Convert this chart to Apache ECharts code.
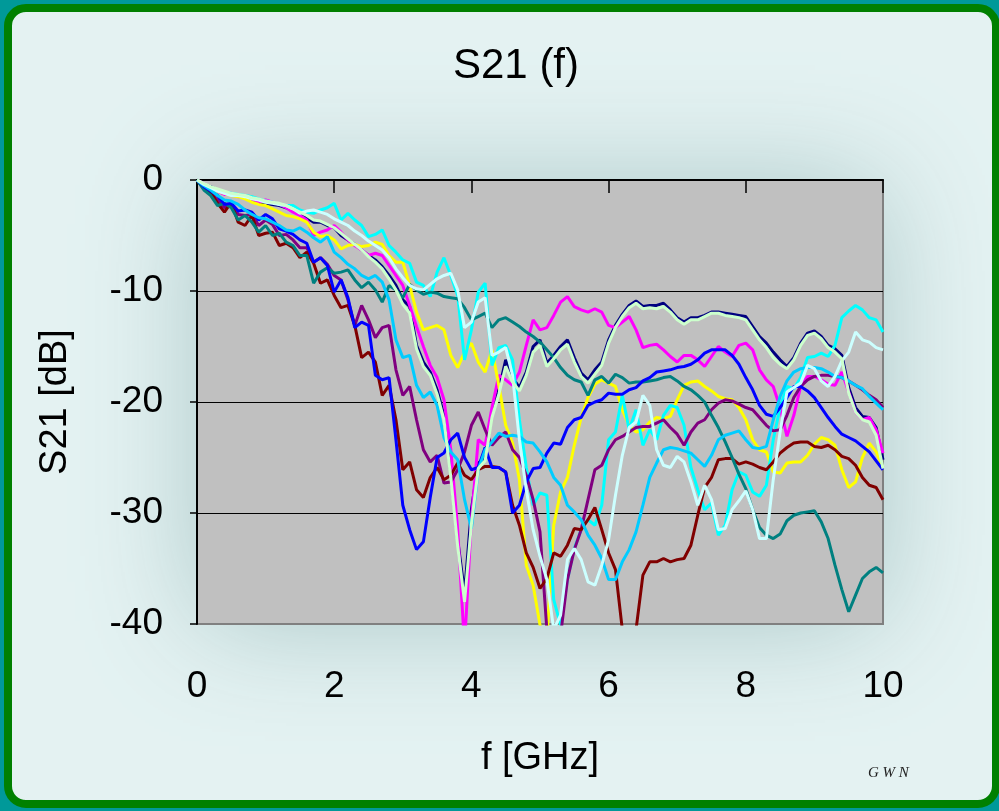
<!DOCTYPE html>
<html><head><meta charset="utf-8">
<script src="https://cdn.jsdelivr.net/npm/echarts/dist/echarts.min.js"></script>
<style>html,body{margin:0;padding:0;background:#009999;overflow:hidden}#c{width:999px;height:811px}</style>
</head><body><div id="c"></div>
<script>
// frequency grid: 0.0 .. 10.0 GHz, step 0.1
const FREQ = Array.from({length: 101}, (_, i) => Math.round(i) / 10);
const X_TICKS = [0, 2, 4, 6, 8, 10];
const Y_TICKS = [0, -10, -20, -30, -40];

const navy = [
 0, -0.4, -0.6, -0.9, -1.2, -1.3, -1.4, -1.6, -1.8, -2.0,
 -2.1, -2.2, -2.3, -2.5, -2.8, -3.1, -3.4, -3.8, -3.8, -4.1,
 -4.3, -5.0, -5.4, -5.8, -6.3, -6.8, -7.2, -7.8, -8.6, -9.5,
 -10.8, -11.4, -14.9, -16.4, -17.3, -18.9, -21.2, -26.3, -32.4, -37.2,
 -29.7, -25.5, -25.0, -20.9, -18.9, -16.2, -17.8, -18.7, -17.3, -15.0,
 -14.4, -16.5, -15.8, -15.0, -14.4, -16.0, -17.4, -18.0, -17.1, -16.4,
 -14.4, -13.1, -12.1, -11.3, -10.9, -11.4, -11.3, -11.3, -11.1, -11.7,
 -12.4, -12.8, -12.4, -12.4, -12.2, -11.9, -11.9, -12.0, -12.1, -12.2,
 -12.3, -13.2, -14.1, -14.7, -15.5, -16.2, -16.8, -16.0, -14.7, -13.8,
 -13.6, -14.1, -14.9, -15.2, -15.8, -18.7, -20.5, -21.3, -21.4, -22.3,
 -25.2];
const magenta = [
 0, -0.3, -0.7, -1.0, -1.3, -1.2, -1.5, -1.5, -1.7, -2.0,
 -1.8, -2.0, -2.2, -2.5, -2.9, -3.2, -3.6, -5.0, -4.7, -4.5,
 -4.1, -4.7, -5.4, -5.9, -6.3, -6.8, -6.6, -6.8, -7.7, -8.6,
 -9.5, -11.3, -13.2, -15.0, -16.7, -17.8, -19.8, -24.3, -31.5, -42.0,
 -30.6, -23.4, -23.9, -20.5, -17.6, -18.0, -18.5, -17.3, -14.9, -12.6,
 -13.5, -13.3, -12.2, -11.0, -10.5, -11.4, -11.7, -11.9, -11.6, -11.9,
 -13.1, -13.3, -12.8, -12.3, -13.5, -15.1, -14.9, -14.8, -15.3, -15.9,
 -16.4, -15.8, -15.8, -16.2, -16.8, -15.9, -15.0, -15.5, -15.9, -14.9,
 -14.7, -15.3, -17.1, -18.0, -18.6, -20.5, -23.1, -21.2, -18.6, -17.7,
 -17.7, -18.0, -18.4, -18.5, -17.3, -19.1, -20.9, -21.6, -21.4, -22.5,
 -24.6];
const yellow = [
 0, -0.4, -0.7, -1.0, -1.2, -1.4, -1.5, -1.7, -2.0, -2.2,
 -2.3, -2.6, -2.9, -3.2, -3.3, -3.5, -3.8, -4.7, -5.1, -5.0,
 -5.4, -6.2, -5.9, -5.8, -6.0, -5.9, -5.6, -5.8, -6.8, -7.4,
 -7.4, -9.5, -11.9, -13.5, -13.3, -13.1, -13.5, -15.8, -16.9, -15.5,
 -14.7, -16.4, -17.3, -15.3, -18.5, -22.1, -23.7, -27.0, -34.7, -36.5,
 -40.1, -41.5, -31.1, -28.1, -26.8, -23.9, -21.4, -19.6, -18.4, -18.0,
 -18.3, -18.6, -20.7, -22.1, -22.7, -22.5, -21.8, -21.4, -21.5, -21.3,
 -19.8, -18.5, -18.2, -18.1, -18.6, -19.0, -19.5, -19.7, -19.8, -20.5,
 -21.6, -23.4, -24.3, -24.5, -26.3, -26.4, -25.5, -25.4, -25.4, -24.8,
 -23.8, -23.2, -23.4, -23.9, -26.1, -27.7, -27.2, -25.0, -23.7, -24.5,
 -25.9];
const cyan = [
 0, -0.5, -0.7, -0.9, -1.1, -1.2, -1.3, -1.4, -1.5, -1.7,
 -1.9, -2.0, -2.2, -2.3, -2.3, -2.7, -2.9, -3.0, -2.7, -2.5,
 -2.1, -3.6, -3.0, -3.6, -4.1, -5.1, -4.9, -4.5, -5.9, -6.5,
 -7.2, -7.5, -9.2, -9.5, -10.5, -8.3, -7.0, -8.6, -10.4, -16.2,
 -13.5, -10.1, -9.3, -16.7, -15.1, -14.9, -16.2, -21.6, -25.9, -29.3,
 -28.2, -28.4, -37.8, -40.1, -36.0, -33.2, -31.5, -30.6, -31.1, -29.3,
 -23.4, -22.7, -19.4, -22.5, -20.7, -23.9, -22.5, -23.4, -21.2, -20.3,
 -20.5, -22.1, -25.9, -27.9, -29.7, -29.1, -32.0, -31.1, -27.9, -26.3,
 -26.6, -28.1, -28.5, -27.5, -23.4, -20.5, -18.6, -18.8, -17.8, -16.0,
 -15.9, -15.6, -15.9, -14.9, -12.4, -11.8, -11.3, -11.7, -12.4, -12.6,
 -13.7];
const purple = [
 0, -0.7, -1.2, -1.8, -2.5, -2.2, -3.1, -3.2, -3.1, -4.1,
 -3.6, -4.0, -5.0, -4.9, -5.4, -6.1, -6.1, -7.4, -7.0, -7.6,
 -8.6, -9.0, -10.8, -13.1, -11.3, -12.6, -14.2, -13.3, -13.1, -17.1,
 -19.4, -18.6, -21.6, -24.3, -25.4, -24.8, -27.3, -27.2, -26.1, -24.5,
 -22.1, -20.9, -22.5, -23.9, -23.2, -22.7, -24.3, -25.0, -26.6, -28.8,
 -31.7, -40.5, -44.0, -41.0, -36.0, -33.3, -31.5, -28.8, -26.1, -25.7,
 -24.3, -23.4, -23.1, -22.7, -22.3, -22.2, -22.2, -21.9, -21.6, -22.3,
 -22.9, -23.9, -22.7, -21.9, -21.6, -20.7, -20.1, -19.8, -19.9, -20.2,
 -20.5, -20.7, -21.4, -22.1, -22.6, -22.5, -21.2, -19.6, -18.6, -18.0,
 -17.7, -17.6, -17.6, -17.7, -17.8, -18.1, -18.5, -18.9, -19.4, -19.8,
 -20.5];
const maroon = [
 0, -0.8, -1.1, -2.1, -2.9, -2.0, -3.8, -4.1, -3.2, -5.0,
 -4.8, -4.7, -5.9, -5.7, -6.1, -7.0, -6.5, -7.5, -9.3, -9.0,
 -10.4, -11.5, -11.3, -13.1, -16.0, -15.5, -16.4, -19.4, -18.5, -21.6,
 -26.1, -25.4, -27.9, -28.6, -26.8, -25.9, -27.0, -26.6, -25.5, -26.6,
 -27.0, -26.1, -25.8, -25.8, -25.9, -26.3, -29.3, -31.1, -33.6, -34.9,
 -36.8, -35.9, -33.6, -33.9, -32.9, -31.4, -31.5, -30.6, -29.5, -31.5,
 -33.6, -35.1, -40.5, -45.0, -40.5, -35.6, -34.4, -34.4, -34.1, -34.4,
 -34.2, -34.1, -32.9, -30.2, -27.7, -26.8, -25.2, -25.1, -25.1, -25.6,
 -25.4, -25.6, -25.9, -26.1, -25.4, -24.6, -24.1, -23.7, -23.6, -23.6,
 -24.0, -24.1, -23.9, -24.3, -24.9, -25.1, -25.7, -26.8, -27.5, -27.7,
 -28.8];
const teal = [
 0, -0.9, -1.4, -2.3, -2.1, -2.5, -3.6, -3.2, -3.8, -4.7,
 -4.1, -5.0, -4.8, -5.6, -5.9, -6.8, -6.8, -9.3, -8.3, -7.9,
 -8.4, -8.3, -8.1, -9.0, -9.7, -9.2, -9.9, -11.0, -9.5, -9.9,
 -10.6, -9.4, -9.9, -10.3, -10.1, -10.2, -10.5, -10.6, -10.7, -11.5,
 -12.6, -12.3, -12.0, -13.3, -12.6, -12.4, -12.8, -13.2, -13.7, -14.1,
 -14.6, -15.3, -16.0, -16.9, -17.6, -18.0, -18.2, -19.4, -18.0, -17.7,
 -18.3, -17.5, -17.8, -18.3, -18.2, -18.2, -18.1, -18.0, -17.8, -17.7,
 -18.1, -18.6, -18.9, -19.4, -20.0, -21.2, -22.3, -23.6, -25.0, -26.5,
 -27.8, -29.7, -31.3, -32.0, -32.3, -31.9, -30.7, -30.2, -30.0, -29.9,
 -29.8, -30.8, -32.3, -34.7, -36.9, -38.9, -37.4, -35.9, -35.3, -34.9,
 -35.4];
const blue = [
 0, -0.6, -1.0, -1.4, -2.2, -2.1, -2.8, -2.7, -2.9, -3.6,
 -3.1, -3.5, -4.4, -4.6, -4.9, -5.4, -5.7, -7.4, -7.0, -7.7,
 -10.1, -9.0, -10.6, -13.3, -12.8, -13.1, -17.6, -18.0, -17.8, -23.4,
 -29.3, -31.5, -33.3, -32.6, -28.6, -25.0, -24.6, -23.4, -22.8, -25.0,
 -26.1, -25.9, -24.1, -25.9, -25.9, -26.3, -30.0, -29.3, -27.2, -26.0,
 -25.9, -24.6, -23.7, -23.8, -22.3, -21.6, -21.4, -20.3, -20.0, -19.8,
 -19.2, -19.3, -19.3, -18.9, -18.7, -18.1, -17.8, -17.3, -17.2, -17.1,
 -16.9, -16.8, -16.6, -16.2, -15.6, -15.3, -15.3, -15.3, -15.8, -16.6,
 -17.8, -18.9, -20.3, -21.1, -21.3, -20.5, -19.6, -18.6, -18.6, -19.0,
 -19.6, -20.5, -21.4, -22.2, -22.9, -23.2, -23.5, -24.0, -24.5, -25.3,
 -26.1];
const skyBlue = [
 0, -0.5, -0.9, -1.4, -1.8, -1.9, -2.2, -2.7, -3.1, -3.4,
 -3.5, -3.8, -4.1, -4.5, -4.6, -4.3, -4.7, -5.2, -5.6, -5.1,
 -6.5, -7.0, -7.6, -8.0, -8.6, -8.9, -8.6, -9.2, -10.8, -14.4,
 -16.0, -15.8, -18.5, -19.6, -19.1, -20.3, -23.2, -24.5, -25.2, -28.8,
 -31.4, -26.1, -24.3, -23.6, -22.8, -23.1, -23.0, -23.1, -23.6, -23.7,
 -24.5, -25.4, -26.8, -27.5, -29.3, -29.9, -30.6, -32.0, -32.9, -34.1,
 -36.0, -36.0, -34.4, -33.3, -31.7, -29.3, -26.8, -25.5, -24.3, -24.1,
 -24.2, -24.4, -24.6, -25.2, -25.8, -24.8, -23.4, -23.0, -22.8, -22.6,
 -23.4, -24.1, -24.2, -24.0, -21.6, -19.5, -18.1, -17.3, -17.0, -16.9,
 -16.9, -17.0, -17.3, -17.7, -17.8, -18.1, -18.5, -18.8, -19.5, -20.1,
 -20.7];
const lightCyan = [
 0, -0.4, -0.7, -1.0, -1.2, -1.4, -1.4, -1.5, -1.7, -1.8,
 -2.0, -2.1, -2.2, -2.3, -2.6, -3.0, -2.8, -2.7, -2.9, -3.1,
 -3.5, -3.8, -4.1, -4.6, -5.0, -5.5, -5.9, -6.3, -7.0, -8.0,
 -8.8, -9.5, -9.8, -9.9, -9.4, -8.9, -8.6, -8.4, -9.9, -13.3,
 -12.8, -11.0, -10.6, -15.8, -15.5, -15.1, -17.6, -23.4, -27.9, -31.5,
 -33.9, -36.0, -40.5, -39.2, -34.2, -33.2, -34.2, -36.2, -36.5, -34.7,
 -32.4, -28.4, -24.8, -22.3, -21.8, -19.4, -20.3, -24.3, -25.7, -25.9,
 -24.9, -25.4, -27.2, -29.3, -27.5, -28.8, -31.5, -31.4, -29.7, -28.9,
 -28.0, -29.7, -32.3, -32.3, -27.0, -22.7, -19.1, -18.7, -18.3, -16.7,
 -17.0, -18.1, -18.6, -17.7, -16.3, -15.5, -13.7, -14.4, -14.6, -15.1,
 -15.3];
const paleGreen = [
 0, -0.3, -0.6, -0.8, -1.0, -1.2, -1.3, -1.4, -1.6, -1.7,
 -1.9, -2.0, -2.1, -2.3, -2.6, -2.9, -3.2, -3.6, -3.7, -4.0,
 -4.3, -4.8, -5.3, -5.8, -6.3, -6.9, -7.4, -8.0, -8.9, -9.9,
 -11.2, -12.0, -15.2, -16.8, -17.6, -19.3, -21.6, -26.8, -33.0, -38.0,
 -31.0, -26.0, -25.3, -21.4, -19.3, -16.8, -18.2, -19.0, -17.6, -15.5,
 -14.9, -16.8, -16.1, -15.3, -14.8, -16.4, -17.7, -18.3, -17.5, -16.7,
 -14.7, -13.3, -12.3, -11.5, -11.1, -11.6, -11.5, -11.6, -11.4, -11.9,
 -12.6, -13.0, -12.6, -12.6, -12.3, -12.0, -12.0, -12.2, -12.3, -12.4,
 -12.6, -13.5, -14.4, -15.1, -16.0, -16.6, -17.0, -16.2, -14.9, -14.0,
 -13.8, -14.3, -15.1, -15.5, -16.1, -19.2, -20.9, -21.6, -21.8, -23.0,
 -26.0];

const SERIES = [
  ['navy', navy, '#000080'],
  ['magenta', magenta, '#FF00FF'],
  ['yellow', yellow, '#FFFF00'],
  ['cyan', cyan, '#00FFFF'],
  ['purple', purple, '#800080'],
  ['maroon', maroon, '#800000'],
  ['teal', teal, '#008080'],
  ['blue', blue, '#0000FF'],
  ['skyBlue', skyBlue, '#00CCFF'],
  ['lightCyan', lightCyan, '#CCFFFF'],
  ['paleGreen', paleGreen, '#CCFFCC']
];

const FONT = 'Liberation Sans, Arial, sans-serif';
const chart = echarts.init(document.getElementById('c'), null, {renderer: 'canvas'});
chart.setOption({
  animation: false,
  backgroundColor: '#009999',
  title: {
    text: 'S21 (f)', left: 511, top: 40, textAlign: 'center',
    textStyle: {fontFamily: FONT, fontSize: 42, fontWeight: 'normal', color: '#000'}
  },
  graphic: [
    {type: 'rect', z: -10, shape: {x: 8, y: 8, width: 988, height: 796, r: 18},
     style: {fill: '#E4F2F2', stroke: '#008000', lineWidth: 8}},
    {type: 'rect', z: -9, shape: {x: 200, y: 185, width: 680, height: 436},
     style: {fill: '#A9C6C6', shadowBlur: 110, shadowColor: '#A9C6C6'}},
    {type: 'text', z: 10, left: 868, top: 766,
     style: {text: 'G W N', font: 'italic 15px "Liberation Serif", serif', fill: '#222'}}
  ],
  grid: {left: 197, right: 116, top: 180, bottom: 187, show: true,
         backgroundColor: '#C0C0C0', borderColor: '#808080', borderWidth: 2},
  xAxis: [
    {type: 'value', min: 0, max: 10, interval: 2, position: 'bottom',
     axisLine: {show: false, onZero: false}, axisTick: {show: false}, splitLine: {show: false},
     axisLabel: {fontFamily: FONT, fontSize: 37, color: '#000', margin: 44,
       formatter: v => X_TICKS.includes(v) ? String(v) : ''},
     name: 'f [GHz]', nameLocation: 'middle', nameGap: 116,
     nameTextStyle: {fontFamily: FONT, fontSize: 38, color: '#000'}},
    {type: 'value', min: 0, max: 10, interval: 2, position: 'top',
     axisLine: {show: true, onZero: false, lineStyle: {color: '#000', width: 2}},
     axisTick: {show: true, inside: true, length: 13, lineStyle: {color: '#000', width: 1.5}},
     axisLabel: {show: false}, splitLine: {show: false}}
  ],
  yAxis: {type: 'value', min: -40, max: 0, interval: 10,
    axisLine: {show: true, onZero: false, lineStyle: {color: '#000', width: 2}},
    axisTick: {show: true, length: 7, lineStyle: {color: '#000', width: 1.5}},
    axisLabel: {fontFamily: FONT, fontSize: 37, color: '#000', margin: 34,
      formatter: v => Y_TICKS.includes(v) ? String(v) : ''},
    splitLine: {show: true, lineStyle: {color: ['#808080', '#000', '#000', '#000', '#000'], width: 1}},
    name: 'S21 [dB]', nameLocation: 'middle', nameGap: 122,
    nameTextStyle: {fontFamily: FONT, fontSize: 38, color: '#000'}},
  series: SERIES.map(([name, vals, color]) => ({
    name, type: 'line', xAxisIndex: 0, showSymbol: false, clip: true,
    lineStyle: {color, width: 3}, itemStyle: {color},
    data: FREQ.map((f, i) => [f, vals[i]])
  }))
});
</script></body></html>
